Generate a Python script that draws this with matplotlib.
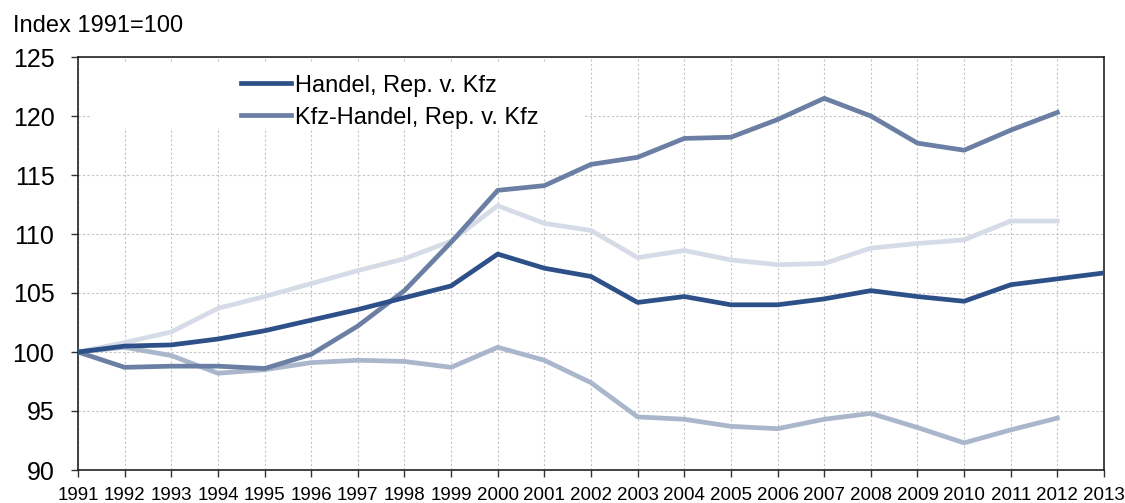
import matplotlib.pyplot as plt
from matplotlib.patches import Rectangle

# Data
years = list(range(1991, 2014))
handel = [100.0, 100.5, 100.6, 101.1, 101.8, 102.7, 103.6, 104.6, 105.6, 108.3,
          107.1, 106.4, 104.2, 104.7, 104.0, 104.0, 104.5, 105.2, 104.7, 104.3,
          105.7, 106.2, 106.7]
kfz_handel = [100.0, 98.7, 98.8, 98.8, 98.6, 99.8, 102.2, 105.2, 109.3, 113.7,
              114.1, 115.9, 116.5, 118.1, 118.2, 119.7, 121.5, 120.0, 117.7, 117.1,
              118.8, 120.3]
light = [100.0, 100.8, 101.7, 103.7, 104.7, 105.8, 106.9, 107.9, 109.4, 112.4,
         110.9, 110.3, 108.0, 108.6, 107.8, 107.4, 107.5, 108.8, 109.2, 109.5,
         111.1, 111.1]
lower = [100.0, 100.4, 99.7, 98.2, 98.5, 99.1, 99.3, 99.2, 98.7, 100.4,
         99.3, 97.4, 94.5, 94.3, 93.7, 93.5, 94.3, 94.8, 93.6, 92.3,
         93.4, 94.4]
labels = ['Handel, Rep. v. Kfz', 'Kfz-Handel, Rep. v. Kfz']

plt.rcParams['font.family'] = ['Liberation Sans', 'DejaVu Sans']

fig = plt.figure(figsize=(11.25, 5.03), dpi=100)
ax = fig.add_axes([78 / 1125, 1 - 470 / 503, 1026 / 1125, 413 / 503])
ax.set_axisbelow(True)

lw = 3.4
ax.plot(years[:len(light)], light, color='#d5dce7', lw=lw, zorder=2)
ax.plot(years[:len(lower)], lower, color='#a9b6cb', lw=lw, zorder=2)
ax.plot(years[:len(kfz_handel)], kfz_handel, color='#6a7fa3', lw=lw, zorder=3,
        label=labels[1])
ax.plot(years, handel, color='#2d5088', lw=lw, zorder=4, label=labels[0])

# white box behind the legend
ax.add_patch(Rectangle((0.0136, 0.828), 0.48, 0.16, transform=ax.transAxes,
                       facecolor='white', edgecolor='none', zorder=1))

h, l = ax.get_legend_handles_labels()
ax.legend(h[::-1], l[::-1], loc='upper left', bbox_to_anchor=(0.142, 1.0),
          frameon=False, fontsize=17, handlelength=2.1, handletextpad=0.15,
          labelspacing=0.42, borderaxespad=0.35)

ax.set_xlim(1991, 2013)
ax.set_ylim(90, 125)
ax.set_xticks(years)
ax.set_yticks(range(90, 126, 5))
ax.tick_params(axis='x', labelsize=13.5, length=5, width=1, pad=7, color='#333333')
ax.tick_params(axis='y', labelsize=18, length=5, width=1, pad=12, color='#333333')
ax.grid(True, color='#c4c4c4', lw=0.8, linestyle=(0, (2, 2)))
for s in ax.spines.values():
    s.set_color('#222222')
    s.set_linewidth(1.2)

fig.text(13 / 1125, 1 - 26 / 503, 'Index 1991=100', fontsize=17, va='center', ha='left')

fig.savefig('out.png', dpi=100)
